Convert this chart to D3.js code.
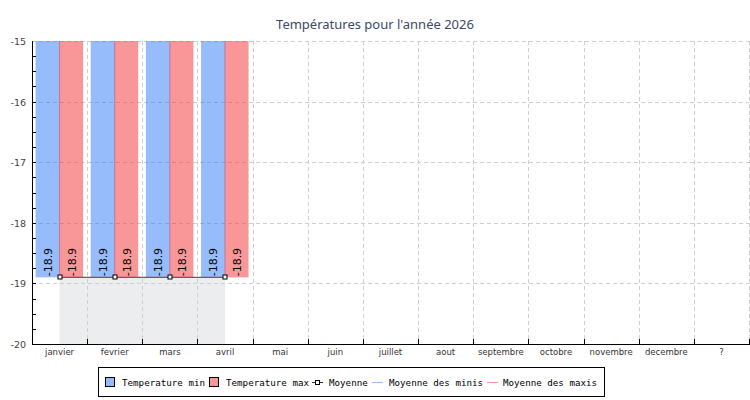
<!DOCTYPE html>
<html><head><meta charset="utf-8">
<script src="https://cdn.jsdelivr.net/npm/d3@7"></script>
<style>body{margin:0;background:#fff}svg{display:block}</style>
</head><body>
<svg id="c" width="750" height="400"></svg>
<script>
const categories = ["janvier","fevrier","mars","avril","mai","juin","juillet","aout","septembre","octobre","novembre","decembre","?"];
const tempMin = [-18.9,-18.9,-18.9,-18.9,null,null,null,null,null,null,null,null,null];
const tempMax = [-18.9,-18.9,-18.9,-18.9,null,null,null,null,null,null,null,null,null];
const moyenne = [-18.9,-18.9,-18.9,-18.9,null,null,null,null,null,null,null,null,null];
const yTicks = [-20,-19,-18,-17,-16,-15];
const title = "Températures pour l'année 2026";
const legendItems = ["Temperature min","Temperature max","Moyenne","Moyenne des minis","Moyenne des maxis"];

const svg = d3.select("#c");
const L = 32, R = 749, T = 41, B = 344;
const x = d3.scaleBand().domain(categories).range([L, R]).padding(0);
const y = d3.scaleLinear().domain([-20, -15]).range([B, T]);
const bw = x.bandwidth();
const barW = 24;

svg.append("defs").append("clipPath").attr("id","plot")
  .append("rect").attr("x",L).attr("y",T).attr("width",R-L).attr("height",B-T);

// title
svg.append("text").attr("x",375).attr("y",29).attr("text-anchor","middle")
  .attr("font-family","Noto Sans").attr("font-size",13).attr("fill","#3d4866").text(title);

// grid
const grid = svg.append("g").attr("stroke","#cfcfcf").attr("stroke-dasharray","4,3").attr("stroke-width",1);
yTicks.forEach(t => grid.append("line").attr("x1",L).attr("x2",R).attr("y1",Math.round(y(t))+0.5).attr("y2",Math.round(y(t))+0.5));
categories.forEach(c => { const xx = Math.round(x(c)+bw)+0.5; grid.append("line").attr("x1",xx).attr("x2",xx).attr("y1",T).attr("y2",B); });

const plot = svg.append("g").attr("clip-path","url(#plot)");

// area under moyenne
const mPts = categories.map((c,i)=>({c, v: moyenne[i]})).filter(d=>d.v!=null);
plot.append("path").datum(mPts)
  .attr("d", d3.area().x(d=>x(d.c)+bw/2).y0(B).y1(d=>y(d.v)))
  .attr("fill","rgba(200,203,208,0.35)");

// bars
const cx = c => x(c) + bw/2;
plot.selectAll(".bmin").data(categories.map((c,i)=>({c,v:tempMin[i]})).filter(d=>d.v!=null))
  .join("rect").attr("x",d=>cx(d.c)-barW).attr("width",barW+0.5)
  .attr("y",y(0)).attr("height",d=>y(d.v)-y(0)).attr("fill","rgba(46,122,247,0.5)");
plot.selectAll(".bmax").data(categories.map((c,i)=>({c,v:tempMax[i]})).filter(d=>d.v!=null))
  .join("rect").attr("x",d=>cx(d.c)-0.5).attr("width",barW)
  .attr("y",y(0)).attr("height",d=>y(d.v)-y(0)).attr("fill","rgba(243,45,47,0.5)");

// labels
const lab = svg.append("g").attr("font-family","DejaVu Sans").attr("font-size",11).attr("fill","#000");
categories.forEach((c,i)=>{
  if (tempMin[i]!=null) lab.append("text").attr("transform",`translate(${cx(c)-barW/2+4},${y(tempMin[i])-1}) rotate(-90)`).text(tempMin[i]);
  if (tempMax[i]!=null) lab.append("text").attr("transform",`translate(${cx(c)+barW/2+4},${y(tempMax[i])-1}) rotate(-90)`).text(tempMax[i]);
});

// moyenne line
svg.append("path").datum(mPts)
  .attr("d", d3.line().x(d=>cx(d.c)).y(d=>y(d.v)))
  .attr("fill","none").attr("stroke","#a04060").attr("stroke-width",1.2);
svg.selectAll(".mk").data(mPts).join("rect")
  .attr("x",d=>Math.round(cx(d.c))-2).attr("y",d=>Math.round(y(d.v))-2).attr("width",4).attr("height",4)
  .attr("fill","#fff").attr("stroke","#000").attr("stroke-width",1);

// y axis
const ax = svg.append("g");
ax.append("line").attr("x1",L+0.5).attr("x2",L+0.5).attr("y1",T).attr("y2",B+1).attr("stroke","#000");
const minor = d3.range(-20, -15.001, 0.25);
minor.forEach(t => ax.append("line").attr("x1",L).attr("x2",L+4).attr("y1",Math.round(y(t))+0.5).attr("y2",Math.round(y(t))+0.5).attr("stroke","#000"));
yTicks.forEach(t => ax.append("text").attr("x",26).attr("y",y(t)+4).attr("text-anchor","end")
  .attr("font-family","DejaVu Sans").attr("font-size",9.5).attr("fill","#444").text(t));

// x axis
ax.append("line").attr("x1",L).attr("x2",R+1).attr("y1",B+0.5).attr("y2",B+0.5).attr("stroke","#000");
categories.forEach(c => { const xx = Math.round(x(c)+bw)+0.5;
  ax.append("line").attr("x1",xx).attr("x2",xx).attr("y1",B-5).attr("y2",B).attr("stroke","#000"); });
categories.forEach(c => ax.append("text").attr("x",cx(c)).attr("y",355).attr("text-anchor","middle")
  .attr("font-family","DejaVu Sans").attr("font-size",8.5).attr("fill","#333").text(c));

// legend
const lg = svg.append("g").attr("font-family","DejaVu Sans Mono").attr("font-size",9.2).attr("fill","#000");
lg.append("rect").attr("x",98.5).attr("y",367.5).attr("width",506).attr("height",29).attr("fill","#fff").attr("stroke","#000");
lg.append("rect").attr("x",105.5).attr("y",377.5).attr("width",9).attr("height",9).attr("fill","#94bbfb").attr("stroke","#000");
lg.append("text").attr("x",122).attr("y",386).text(legendItems[0]);
lg.append("rect").attr("x",209.5).attr("y",377.5).attr("width",9).attr("height",9).attr("fill","#f99697").attr("stroke","#000");
lg.append("text").attr("x",226).attr("y",386).text(legendItems[1]);
lg.append("line").attr("x1",312).attr("x2",323).attr("y1",382.5).attr("y2",382.5).attr("stroke","#333");
lg.append("rect").attr("x",315.5).attr("y",380.5).attr("width",4).attr("height",4).attr("fill","#fff").attr("stroke","#000");
lg.append("text").attr("x",329).attr("y",386).text(legendItems[2]);
lg.append("line").attr("x1",372).attr("x2",383).attr("y1",382.5).attr("y2",382.5).attr("stroke","#94bbfb");
lg.append("text").attr("x",389).attr("y",386).text(legendItems[3]);
lg.append("line").attr("x1",487).attr("x2",498).attr("y1",382.5).attr("y2",382.5).attr("stroke","#f99697");
lg.append("text").attr("x",503).attr("y",386).text(legendItems[4]);
</script>
</body></html>
